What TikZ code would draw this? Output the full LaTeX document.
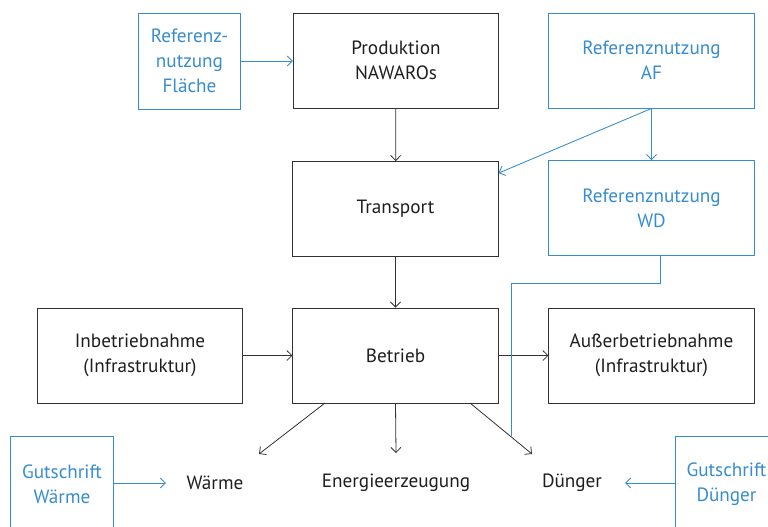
\documentclass[tikz,border=0pt]{standalone}
\usepackage{fontspec}
\setmainfont{PT Sans}
\usetikzlibrary{arrows.meta,calc}
\definecolor{refblue}{RGB}{55,140,205}
\definecolor{linegray}{RGB}{50,50,50}
\definecolor{txtgray}{RGB}{30,30,30}
\begin{document}
\begin{tikzpicture}[x=0.75pt,y=-0.75pt,
  txt/.style={font=\fontsize{14.4}{18.75}\selectfont, align=center, inner sep=0pt},
  box/.style={txt, draw=linegray, text=txtgray, line width=0.6pt, minimum width=154pt, minimum height=71.25pt},
  rbox/.style={txt, draw=refblue, text=refblue, line width=0.65pt, minimum width=154pt, minimum height=71.25pt},
  sbox/.style={rbox, minimum width=77pt, minimum height=72pt},
  label/.style={txt, text=txtgray},
  arr/.style={draw=linegray, line width=0.6pt, -{Straight Barb[length=3.8pt,width=7.5pt]}},
  barr/.style={draw=refblue, line width=0.65pt, -{Straight Barb[length=3.8pt,width=7.5pt]}},
  bline/.style={draw=refblue, line width=0.65pt}]
\useasboundingbox (0,0) rectangle (768,526);
\clip (0,0) rectangle (768,526);
% boxes
\node[sbox] (fl) at (189.5,61) {Referenz-\\nutzung\\Fläche};
\node[box] (prod) at (396,60.5) {Produktion\\NAWAROs};
\node[rbox] (af) at (651.5,60.5) {Referenznutzung\\AF};
\node[box] (trans) at (395.5,209) {Transport};
\node[rbox] (wd) at (651.5,208) {Referenznutzung\\WD};
\node[box] (inb) at (140,355.5) {Inbetriebnahme\\(Infrastruktur)};
\node[box] (betr) at (395.5,355.5) {Betrieb};
\node[box] (aus) at (651.5,355.5) {Außerbetriebnahme\\(Infrastruktur)};
\node[sbox] (gw) at (62,484) {Gutschrift\\Wärme};
\node[sbox] (gd) at (726.5,484) {Gutschrift\\Dünger};
% output labels
\node[label] (waerme) at (215,483) {Wärme};
\node[label] (energie) at (396,483) {Energieerzeugung};
\node[label] (duenger) at (572,483) {Dünger};
% coordinates
\coordinate (transIn) at ($(trans.north east)!0.125!(trans.south east)$);
\coordinate (bW) at (325,403);
\coordinate (bE) at (470,403);
\coordinate (tW) at (259,454);
\coordinate (tM) at (396,453);
\coordinate (tE) at (532,454);
\coordinate (wdOut) at (660,256);
\coordinate (wdA) at (660,283);
\coordinate (wdB) at (511,283);
\coordinate (wdEnd) at (511,436);
\coordinate (gwEnd) at (166,483);
\coordinate (gdEnd) at (625,483);
% black connectors
\draw[arr] (prod) -- (trans);
\draw[arr] (trans) -- (betr);
\draw[arr] (inb) -- (betr);
\draw[arr] (betr) -- (aus);
\draw[arr] (bW) -- (tW);
\draw[arr] (betr.south) -- (tM);
\draw[arr] (bE) -- (tE);
% blue connectors
\draw[barr] (fl.east) -- (prod.west |- fl.east);
\draw[barr] (af.south) -- (wd.north);
\draw[barr] (af.south) -- (transIn);
\draw[bline] (wdOut) -- (wdA) -- (wdB) -- (wdEnd);
\draw[barr] (gw.east |- gwEnd) -- (gwEnd);
\draw[barr] (gd.west |- gdEnd) -- (gdEnd);
\end{tikzpicture}
\end{document}
